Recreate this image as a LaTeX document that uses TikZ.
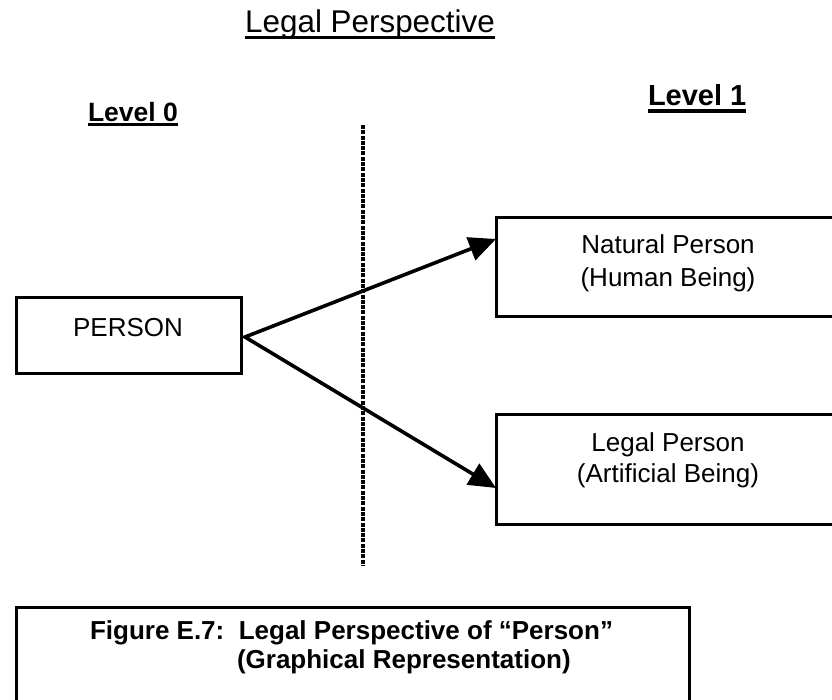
\documentclass[tikz,border=0pt]{standalone}
\usepackage{fontspec}
\setmainfont{Liberation Sans}
\usetikzlibrary{arrows.meta}
\begin{document}
\begin{tikzpicture}[x=1pt,y=-1pt,
  every node/.style={inner sep=0pt, outer sep=0pt},
  frame/.style={draw, line width=3pt},
  boxtext/.style={font=\fontsize{26}{32}\selectfont, anchor=base},
  heading/.style={font=\bfseries\fontsize{26.5}{32}\selectfont, anchor=base west},
  captext/.style={font=\bfseries\fontsize{26}{30}\selectfont, anchor=base west},
  uline/.style={line width=3pt},
  link/.style={line width=3.6pt, line join=miter,
    {Triangle[length=27pt,width=24pt]}-{Triangle[length=27pt,width=24pt]}},
  divider/.style={line width=3.2pt, dash pattern=on 4pt off 1.3pt}]
\useasboundingbox (0,0) rectangle (832,700);
\clip (0,0) rectangle (832,700);

% title
\node[font=\fontsize{31.4}{38}\selectfont, anchor=base] (title) at (370,33) {Legal Perspective};
\draw[uline, line width=2.8pt] ([yshift=-4.5pt]title.base west) -- ([yshift=-4.5pt]title.base east);

% level headings
\node[heading] (lvl0) at (88,121.5) {Level 0};
\draw[uline, line width=2.6pt] ([yshift=-3pt]lvl0.base west) -- ([yshift=-3pt]lvl0.base east);
\node[heading, font=\bfseries\fontsize{29}{34}\selectfont] (lvl1) at (648,106) {Level 1};
\draw[uline, line width=3.4pt] ([yshift=-5pt]lvl1.base west) -- ([yshift=-5pt]lvl1.base east);

% level separator
\coordinate (divtop) at (363,125);
\coordinate (divbot) at (363,565);
\draw[divider] (divtop) -- (divbot);

% boxes
\node[frame, minimum width=225pt, minimum height=75pt] (person) at (128.5,335.5) {};
\node[boxtext] (person-l1) at (128,336.3) {PERSON};

\node[frame, minimum width=344pt, minimum height=99pt] (natural) at (668,267.5) {};
\node[boxtext] (natural-l1) at (668,254) {Natural Person};
\node[boxtext] (natural-l2) at (668,287) {(Human Being)};

\node[frame, minimum width=344pt, minimum height=110pt] (legal) at (668,469) {};
\node[boxtext] (legal-l1) at (668,451) {Legal Person};
\node[boxtext] (legal-l2) at (668,482) {(Artificial Being)};

% branching connectors
\coordinate (fork) at (245,337);
\draw[link] ([yshift=28.5pt]natural.west) -- (fork) -- ([yshift=-19pt]legal.west);

% caption
\node[frame, minimum width=673pt, minimum height=110pt] (capbox) at (352.5,662) {};
\node[captext] (cap1) at (90,639) {Figure E.7:\ \ Legal Perspective of “Person”};
\node[captext] (cap2) at (237,668) {(Graphical Representation)};
\end{tikzpicture}
\end{document}
